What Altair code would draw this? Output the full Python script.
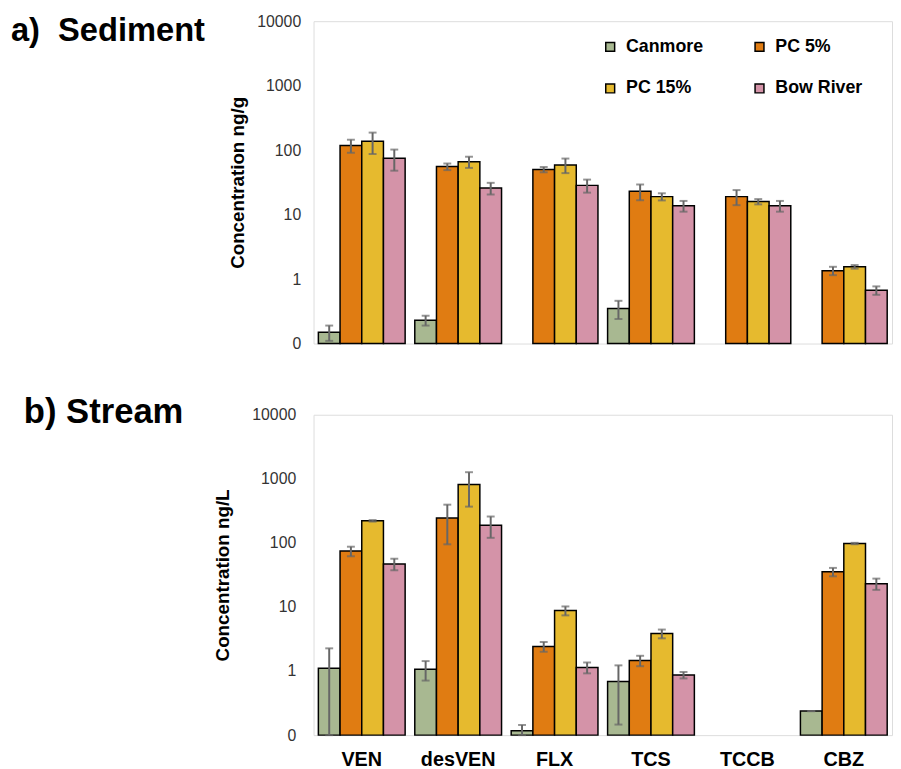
import altair as alt
import pandas as pd

compounds = ["VEN", "desVEN", "FLX", "TCS", "TCCB", "CBZ"]
sites = ["Canmore", "PC 5%", "PC 15%", "Bow River"]
colors = ["#A8B891", "#E07C12", "#E6BA2E", "#D493A8"]

# a) Sediment, ng/g (mean and error per site, per compound)
sed_canmore = [0.15, 0.23, None, 0.35, None, None]
sed_canmore_err = [0.04, 0.04, None, 0.11, None, None]
sed_pc5 = [118, 55.5, 50, 23, 19, 1.35]
sed_pc5_err = [27, 6.5, 4.7, 6.3, 5, 0.2]
sed_pc15 = [137, 66, 59, 19, 15.9, 1.55]
sed_pc15_err = [50, 13, 15, 2.4, 1.5, 0.1]
sed_bow = [75, 25.8, 28.4, 13.7, 13.7, 0.67]
sed_bow_err = [27, 5.3, 6.5, 2.6, 2.6, 0.1]

# b) Stream, ng/L
str_canmore = [1.11, 1.07, 0.117, 0.686, None, 0.237]
str_canmore_err = [1.15, 0.36, 0.027, 0.54, None, 0]
str_pc5 = [74.5, 245, 2.42, 1.46, None, 35.4]
str_pc5_err = [12.7, 150, 0.42, 0.27, None, 5.3]
str_pc15 = [221, 818, 8.79, 3.84, None, 97.7]
str_pc15_err = [6, 450, 1.4, 0.6, None, 2.5]
str_bow = [47, 189, 1.14, 0.867, None, 23.1]
str_bow_err = [9.6, 69, 0.22, 0.1, None, 4.6]

y_ticks = [0.1, 1, 10, 100, 1000, 10000]

FONT = "Liberation Sans"


def long_table(vals, errs):
    rows = []
    for site, v_list, e_list in zip(sites, vals, errs):
        for comp, v, e in zip(compounds, v_list, e_list):
            rows.append({"compound": comp, "site": site, "value": v, "err": e})
    return pd.DataFrame(rows)


sed_df = long_table([sed_canmore, sed_pc5, sed_pc15, sed_bow],
                    [sed_canmore_err, sed_pc5_err, sed_pc15_err, sed_bow_err])
str_df = long_table([str_canmore, str_pc5, str_pc15, str_bow],
                    [str_canmore_err, str_pc5_err, str_pc15_err, str_bow_err])


def panel(df, ytitle, label, label_x, label_y, label_size, show_x, legend, width, height,
          label_pad, title_pad):
    base = alt.Chart(df).transform_filter("isValid(datum.value)").transform_calculate(
        base="0.1",
        lo="max(datum.value - datum.err, 0.1)",
        hi="datum.value + datum.err",
    )
    if show_x:
        xaxis = alt.Axis(title=None, labelFont=FONT, labelFontSize=20, labelFontWeight="bold",
                         labelColor="black", ticks=False, domain=False, labelPadding=15,
                         labelAngle=0)
    else:
        xaxis = None
    x = alt.X("compound:N", scale=alt.Scale(domain=compounds, paddingInner=0.1, paddingOuter=0.05),
              axis=xaxis)
    xo = alt.XOffset("site:N", scale=alt.Scale(domain=sites))
    yscale = alt.Scale(type="log", domain=[0.1, 10000])
    y = alt.Y("value:Q", scale=yscale, title=ytitle,
              axis=alt.Axis(values=y_ticks,
                            labelExpr="datum.value < 0.5 ? '0' : format(datum.value, 'd')",
                            ticks=False, grid=False, domain=False,
                            labelFont=FONT, labelFontSize=16, labelColor="#333333",
                            labelPadding=label_pad, titleFont=FONT, titleFontSize=19,
                            titleFontWeight="bold", titleColor="black", titlePadding=title_pad))
    bars = base.mark_bar(stroke="black", strokeWidth=1.5).encode(
        x=x, xOffset=xo, y=y, y2="base:Q",
        color=alt.Color("site:N", scale=alt.Scale(domain=sites, range=colors), legend=legend),
    )
    rules = base.mark_rule(color="#666666", strokeWidth=2).encode(
        x=x, xOffset=xo, y=alt.Y("lo:Q", scale=yscale), y2="hi:Q")
    cap_hi = base.mark_tick(color="#666666", thickness=2, size=8).encode(
        x=x, xOffset=xo, y=alt.Y("hi:Q", scale=yscale))
    cap_lo = base.mark_tick(color="#666666", thickness=2, size=8).encode(
        x=x, xOffset=xo, y=alt.Y("lo:Q", scale=yscale))
    txt = alt.Chart(alt.Data(values=[{"t": label}])).mark_text(
        align="left", baseline="middle", font=FONT, fontSize=label_size, fontWeight="bold",
        color="black"
    ).encode(text="t:N", x=alt.value(label_x), y=alt.value(label_y))
    return alt.layer(bars, rules, cap_hi, cap_lo, txt).properties(width=width, height=height)


legend_top = alt.Legend(orient="none", legendX=291, legendY=17, columns=2, columnPadding=47,
                        rowPadding=24, direction="horizontal", symbolType="square",
                        symbolSize=81, symbolStrokeColor="black", symbolStrokeWidth=1.5,
                        labelFont=FONT, labelFontSize=18, labelFontWeight="bold",
                        labelColor="black", labelOffset=7, title=None, padding=0)

top = panel(sed_df, "Concentration ng/g", "a)\u00a0\u00a0Sediment", -306, 10, 33, False,
            legend_top, 585, 326, 13, 9)
bottom = panel(str_df, "Concentration ng/L", "b) Stream", -293, -3, 35, True, None, 585, 324,
               18, 20)

chart = alt.vconcat(top, bottom, spacing=42).resolve_scale(
    color="independent"
).properties(
    padding={"left": 2, "top": 0, "right": 0, "bottom": 0}
).configure_view(stroke="black", strokeWidth=2).configure(background="white")

chart.save("out.html", embed_options={"renderer": "svg", "actions": False})
